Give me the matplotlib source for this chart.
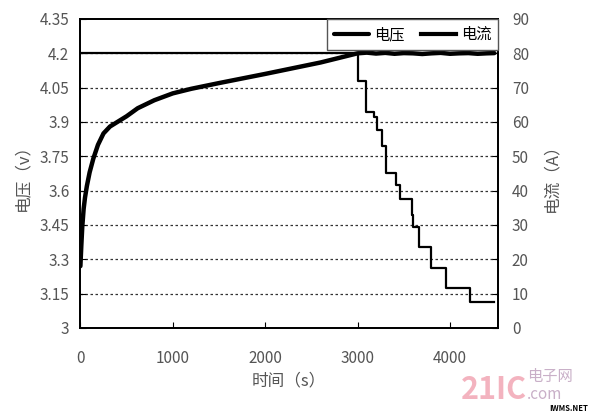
import matplotlib.pyplot as plt

plt.rcParams['font.family'] = ['Noto Sans CJK SC', 'DejaVu Sans']

# voltage curve (s, V)
v_time = [0, 10, 20, 35, 50, 70, 100, 140, 190, 250, 320, 360, 420, 500, 620, 800, 1000,
          1200, 1500, 1750, 2000, 2300, 2600, 2850, 3000, 3100, 3200, 3300, 3400, 3500,
          3600, 3700, 3800, 3900, 4000, 4100, 4200, 4300, 4400, 4480]
voltage = [3.27, 3.36, 3.44, 3.52, 3.57, 3.62, 3.68, 3.74, 3.80, 3.85, 3.88, 3.89, 3.905,
           3.925, 3.96, 3.995, 4.025, 4.045, 4.07, 4.09, 4.11, 4.135, 4.16, 4.185, 4.2,
           4.203, 4.199, 4.202, 4.198, 4.201, 4.2, 4.197, 4.2, 4.202, 4.198, 4.2, 4.201,
           4.198, 4.2, 4.201]

# current steps (s, A)
i_time = [0, 3000, 3095, 3180, 3210, 3265, 3310, 3415, 3460, 3590, 3605, 3665, 3795,
          3960, 4215, 4480]
current = [80, 72, 63, 61.5, 57.7, 53, 45, 41.5, 37.5, 33, 29.5, 23.5, 17.5, 11.5, 7.5, 7.5]

v_ticks = [3, 3.15, 3.3, 3.45, 3.6, 3.75, 3.9, 4.05, 4.2, 4.35]
v_labels = ['3', '3.15', '3.3', '3.45', '3.6', '3.75', '3.9', '4.05', '4.2', '4.35']
i_ticks = [0, 10, 20, 30, 40, 50, 60, 70, 80, 90]
x_ticks = [0, 1000, 2000, 3000, 4000]

grey = '#555555'

fig = plt.figure(figsize=(6, 4.13), dpi=100)
ax1 = fig.add_axes([0.134, 0.206, 0.696, 0.748])
ax2 = ax1.twinx()

l1, = ax1.plot(v_time, voltage, color='black', lw=3.2, solid_capstyle='round', label='电压')
l2, = ax2.plot(i_time, current, color='black', lw=1.6, drawstyle='steps-post', label='电流')

ax1.set_xlim(0, 4520)
ax1.set_ylim(3, 4.35)
ax2.set_ylim(0, 90)

ax1.set_yticks(v_ticks)
ax1.set_yticklabels(v_labels)
ax2.set_yticks(i_ticks)
ax1.set_xticks(x_ticks)

# dotted grid lines
for y in v_ticks[1:-1]:
    ax1.axhline(y, color='#333333', lw=0.9, ls=(0, (2, 2)), zorder=0)

ax1.tick_params(axis='y', direction='in', length=4, pad=8, labelsize=11, labelcolor=grey)
ax1.tick_params(axis='x', direction='in', length=4, pad=16, labelsize=11, labelcolor=grey)
ax2.tick_params(axis='y', direction='in', length=4, pad=10, labelsize=11, labelcolor=grey)

for ax in (ax1, ax2):
    for s in ax.spines.values():
        s.set_linewidth(1.3)

ax1.set_ylabel('电压（v）', fontsize=12, color=grey, labelpad=6)
ax2.set_ylabel('电流（A）', fontsize=12, color=grey, rotation=90, labelpad=10)
ax1.set_xlabel('时间（s）', fontsize=12, color=grey, labelpad=4)

leg = ax2.legend(handles=[l1, l2], loc='upper right', ncol=2, fontsize=11,
                 bbox_to_anchor=(1.0, 1.0), borderaxespad=0, fancybox=False,
                 framealpha=1, edgecolor='#555555', handlelength=2.3,
                 columnspacing=1.1, handletextpad=0.3, borderpad=0.45)
leg.get_frame().set_linewidth(1.0)
for h in leg.get_lines():
    h.set_linewidth(3)

# watermark
fig.text(0.768, 0.035, '21IC', fontsize=22, fontweight='bold', color='#f2a6b4', alpha=0.85)
fig.text(0.878, 0.078, '电子网', fontsize=11, color='#c9b0c8')
fig.text(0.878, 0.035, '.com', fontsize=11, color='#c9b0c8', style='italic')
fig.text(0.915, 0.005, 'IWMS.NET', fontsize=5.5, color='black', fontweight='bold')

fig.savefig('out.png', dpi=100)
